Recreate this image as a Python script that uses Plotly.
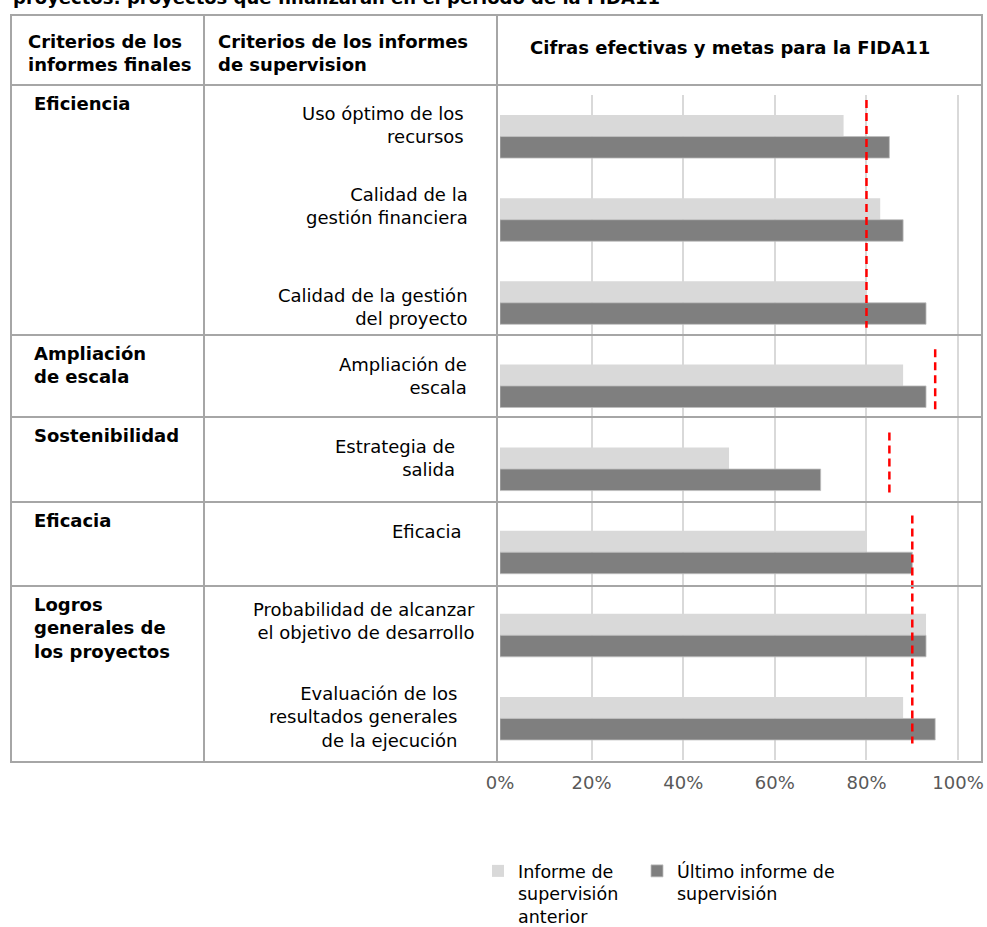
import plotly.graph_objects as go

# ---------------- data ----------------
title_text = "proyectos: proyectos que finalizarán en el período de la FIDA11"
header_labels = [
    "Criterios de los<br>informes finales",
    "Criterios de los informes<br>de supervision",
    "Cifras efectivas y metas para la FIDA11",
]
criteria = [
    "Eficiencia",
    "Ampliación<br>de escala",
    "Sostenibilidad",
    "Eficacia",
    "Logros<br>generales de<br>los proyectos",
]
criterion_of_category = [0, 0, 0, 1, 2, 3, 4, 4]
categories = [
    "Uso óptimo de los<br>recursos",
    "Calidad de la<br>gestión financiera",
    "Calidad de la gestión<br>del proyecto",
    "Ampliación de<br>escala",
    "Estrategia de<br>salida",
    "Eficacia",
    "Probabilidad de alcanzar<br>el objetivo de desarrollo",
    "Evaluación de los<br>resultados generales<br>de la ejecución",
]
previous_report = [0.75, 0.83, 0.80, 0.88, 0.50, 0.80, 0.93, 0.88]
latest_report = [0.85, 0.88, 0.93, 0.93, 0.70, 0.90, 0.93, 0.95]
criterion_targets = [0.80, 0.95, 0.85, 0.90, 0.90]
x_tick_values = [0, 0.2, 0.4, 0.6, 0.8, 1.0]
x_tick_labels = ["0%", "20%", "40%", "60%", "80%", "100%"]
series_names = ["Informe de<br>supervisión<br>anterior", "Último informe de<br>supervisión"]

# ---------------- layout geometry (pixels) ----------------
W, H = 987, 927
PL, PR, PT, PB = 500, 981, 95, 760  # plot area in pixels


def px_x(p):
    return (p - PL) / (PR - PL)


def px_y(p):
    return (PB - p) / (PB - PT)


GRID = "#a6a6a6"
FONT = "DejaVu Sans"

n = len(categories)
ypos = list(range(n))

fig = go.Figure()
fig.add_trace(go.Bar(
    y=ypos, x=previous_report, orientation="h", name=series_names[0],
    marker=dict(color="#d9d9d9", line=dict(width=0)), legend="legend",
))
fig.add_trace(go.Bar(
    y=ypos, x=latest_report, orientation="h", name=series_names[1],
    marker=dict(color="#7f7f7f", line=dict(color="#bfbfbf", width=0.8)), legend="legend2",
))

# target lines: merge consecutive categories with same target
targets_per_cat = [criterion_targets[c] for c in criterion_of_category]
runs = []
start = 0
for i in range(1, n + 1):
    if i == n or targets_per_cat[i] != targets_per_cat[start]:
        runs.append((start, i - 1, targets_per_cat[start]))
        start = i
for a, b, t in runs:
    fig.add_trace(go.Scatter(
        x=[t, t], y=[a - 0.44, b + 0.30], mode="lines",
        line=dict(color="#ff0000", width=2.5, dash="8px,5px"),
        showlegend=False, hoverinfo="skip",
    ))

shapes = []
# table
row_tops = [85, 335, 417, 502, 586]
tbl_l, tbl_r, tbl_t, tbl_b = 11, 982, 15, 762
shapes.append(dict(type="rect", xref="paper", yref="paper",
                   x0=px_x(tbl_l), x1=px_x(tbl_r), y0=px_y(tbl_t), y1=px_y(tbl_b),
                   line=dict(color=GRID, width=2)))
for cx in [204, 497]:
    shapes.append(dict(type="line", xref="paper", yref="paper",
                       x0=px_x(cx), x1=px_x(cx), y0=px_y(tbl_t), y1=px_y(tbl_b),
                       line=dict(color=GRID, width=2)))
for ry in row_tops:
    shapes.append(dict(type="line", xref="paper", yref="paper",
                       x0=px_x(tbl_l), x1=px_x(tbl_r), y0=px_y(ry), y1=px_y(ry),
                       line=dict(color=GRID, width=2)))

annotations = []
# clipped title
annotations.append(dict(text="<b>" + title_text + "</b>", xref="paper", yref="paper",
                        x=px_x(11), y=px_y(10), xanchor="left", yanchor="bottom",
                        showarrow=False, font=dict(family=FONT, size=18, color="#000")))
# headers
annotations.append(dict(text="<b>" + header_labels[0] + "</b>", xref="paper", yref="paper",
                        x=px_x(26), y=px_y(53), xanchor="left", yanchor="middle", align="left",
                        showarrow=False, font=dict(family=FONT, size=18, color="#000")))
annotations.append(dict(text="<b>" + header_labels[1] + "</b>", xref="paper", yref="paper",
                        x=px_x(216), y=px_y(53), xanchor="left", yanchor="middle", align="left",
                        showarrow=False, font=dict(family=FONT, size=18, color="#000")))
annotations.append(dict(text="<b>" + header_labels[2] + "</b>", xref="paper", yref="paper",
                        x=px_x(730), y=px_y(47), xanchor="center", yanchor="middle",
                        showarrow=False, font=dict(family=FONT, size=18, color="#000")))
# criteria labels
for name, top in zip(criteria, row_tops):
    annotations.append(dict(text="<b>" + name + "</b>", xref="paper", yref="paper",
                            x=px_x(32), y=px_y(top + 6), xanchor="left", yanchor="top",
                            align="left", showarrow=False,
                            font=dict(family=FONT, size=18, color="#000")))
# category labels
label_right = [466, 470, 470, 469, 457, 464, 477, 459]
label_dy = [-12, -14, 4, -10, -11, -21, -14, -1]
for i, lab in enumerate(categories):
    annotations.append(dict(text=lab, xref="paper", yref="y",
                            x=px_x(label_right[i]), y=ypos[i], xanchor="right", yanchor="middle",
                            align="right", yshift=-label_dy[i], showarrow=False,
                            font=dict(family=FONT, size=18, color="#000")))

legend_common = dict(orientation="h", xref="container", yref="container",
                     y=1 - 853 / H, xanchor="left", yanchor="top",
                     valign="top", itemwidth=30,
                     font=dict(family=FONT, size=17.5, color="#000"),
                     bgcolor="rgba(0,0,0,0)")

fig.update_layout(
    width=W, height=H,
    margin=dict(l=PL, r=W - PR, t=PT, b=H - PB, pad=0, autoexpand=False),
    paper_bgcolor="white", plot_bgcolor="white",
    barmode="group", bargap=0.482, bargroupgap=0,
    font=dict(family=FONT, size=18, color="#000"),
    shapes=shapes, annotations=annotations,
    showlegend=True,
    legend=dict(x=478 / W, **legend_common),
    legend2=dict(x=637 / W, **legend_common),
    xaxis=dict(range=[0, 1.05], tickvals=x_tick_values, ticktext=x_tick_labels,
               showgrid=True, gridcolor="#d9d9d9", gridwidth=1.5, zeroline=False,
               showline=False, ticks="", ticklabelstandoff=10, automargin=False,
               tickfont=dict(family=FONT, size=18, color="#595959"), fixedrange=True),
    yaxis=dict(range=[n - 0.5, -0.5], showticklabels=False, showgrid=False,
               zeroline=False, showline=False, fixedrange=True, automargin=False),
)

fig.write_html("out.html", config={"displayModeBar": False},
               post_script="document.body.style.margin='0px';document.body.style.overflow='hidden';")
